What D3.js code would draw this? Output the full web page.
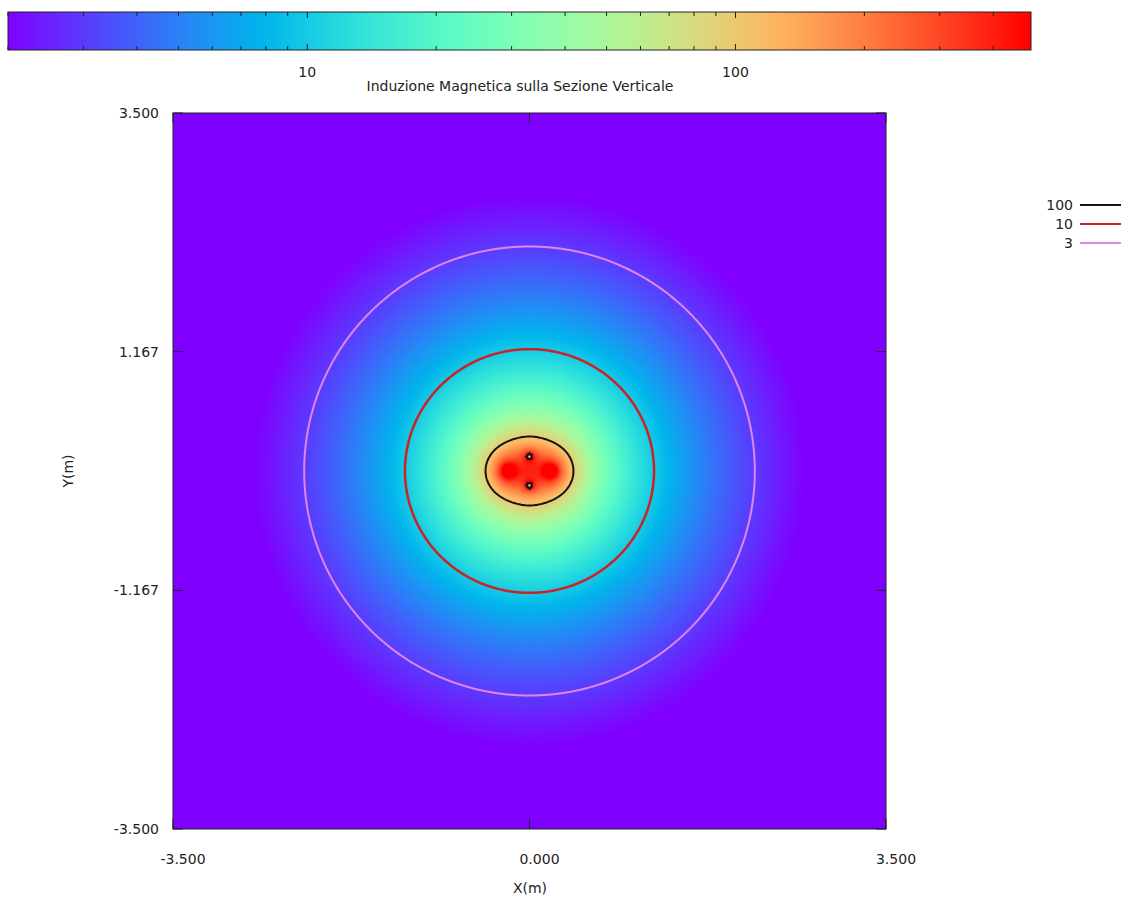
<!DOCTYPE html>
<html>
<head>
<meta charset="utf-8">
<script src="https://cdn.jsdelivr.net/npm/d3@7"></script>
<style>
  body { margin: 0; background: #fff; }
  svg text { font-family: "DejaVu Sans", Verdana, sans-serif; font-size: 14px; fill: #222; }
</style>
</head>
<body>
<div id="chart"></div>
<script>
// conductors of the section: position (m), rms current (A), phase (deg), radius (m)
// radius 0 = thin wire; inside a conductor with radius the field is not computed
var condX = [0.21, -0.21, 0, 0];
var condY = [0, 0, 0.14, -0.14];
var condI = [165, 165, 80, 80];
var condPh = [0, 180, 90, 270];
var condR = [0, 0, 0.03, 0.03];

// contour levels (uT) and axis ticks
var levels = [100, 10, 3];
var xTicks = [-3.5, 0, 3.5];
var yTicks = [-3.5, -1.167, 1.167, 3.5];
var cbRange = [2, 490];
var cbMajor = [10, 100];
var cbMinor = [2, 3, 4, 5, 6, 7, 8, 9, 20, 30, 40, 50, 60, 70, 80, 90, 200, 300, 400];

var W = 1121, H = 898;
var plot = {left: 173, right: 886, top: 113, bottom: 829};
var cb = {left: 8, right: 1031, top: 12, bottom: 50};
var lineColor = {100: "#151515", 10: "#cc2226", 3: "#e483ec"};

var svg = d3.select("#chart").append("svg").attr("width", W).attr("height", H);

var x = d3.scaleLinear().domain([-3.5, 3.5]).range([plot.left, plot.right]);
var y = d3.scaleLinear().domain([-3.5, 3.5]).range([plot.bottom, plot.top]);

// gnuplot rgbformulae 33,13,10
function palette(t) {
  var r = Math.min(1, Math.abs(2 * t - 0.5)),
      g = Math.max(0, Math.sin(Math.PI * t)),
      b = Math.max(0, Math.cos(Math.PI * t / 2));
  return d3.rgb(r * 255, g * 255, b * 255);
}
var color = d3.scaleSequentialLog(palette).domain(cbRange).clamp(true);

var cosPh = condPh.map(function(p) { return Math.cos(p * Math.PI / 180); });
var sinPh = condPh.map(function(p) { return Math.sin(p * Math.PI / 180); });

// rms induction (uT) from the phasors of Bx and By
function field(px, py) {
  var bxr = 0, bxi = 0, byr = 0, byi = 0;
  for (var k = 0; k < condX.length; k++) {
    var dx = px - condX[k], dy = py - condY[k], r2 = dx * dx + dy * dy;
    if (r2 < condR[k] * condR[k]) return 0;
    if (condI[k] === 0) continue;
    if (r2 < 1e-10) return Infinity;
    var c = 0.2 * condI[k] / r2;
    bxr += -c * dy * cosPh[k]; bxi += -c * dy * sinPh[k];
    byr += c * dx * cosPh[k];  byi += c * dx * sinPh[k];
  }
  return Math.sqrt(bxr * bxr + bxi * bxi + byr * byr + byi * byi);
}

// heatmap, one pixel per screen pixel
var pw = plot.right - plot.left, ph = plot.bottom - plot.top;
var canvas = document.createElement("canvas");
canvas.width = pw; canvas.height = ph;
var ctx = canvas.getContext("2d");
var img = ctx.createImageData(pw, ph);
for (var j = 0; j < ph; j++) {
  for (var i = 0; i < pw; i++) {
    var v = field(x.invert(plot.left + i + 0.5), y.invert(plot.top + j + 0.5));
    var c = v === 0 ? d3.rgb("#f3e9c8") : d3.rgb(color(Math.min(v, cbRange[1])));
    var o = (j * pw + i) * 4;
    img.data[o] = c.r; img.data[o + 1] = c.g; img.data[o + 2] = c.b; img.data[o + 3] = 255;
  }
}
ctx.putImageData(img, 0, 0);
svg.append("image")
    .attr("x", plot.left).attr("y", plot.top)
    .attr("width", pw).attr("height", ph)
    .attr("href", canvas.toDataURL());

// contours on a grid
var step = 0.01, n = Math.round(7 / step) + 1;
var values = new Float64Array(n * n);
for (var gj = 0; gj < n; gj++)
  for (var gi = 0; gi < n; gi++)
    values[gj * n + gi] = field(-3.5 + gi * step, -3.5 + gj * step);

var contours = d3.contours().size([n, n]).thresholds(levels)(values);
var path = d3.geoPath(d3.geoTransform({
  point: function(u, w) {
    this.stream.point(x(-3.5 + (u - 0.5) * step), y(-3.5 + (w - 0.5) * step));
  }
}));
svg.append("g").selectAll("path")
  .data(contours)
  .enter().append("path")
    .attr("d", path)
    .attr("fill", "none")
    .attr("stroke", function(d) { return lineColor[d.value]; })
    .attr("stroke-width", function(d) { return d.value === 10 ? 2.5 : 2; });

// frame and ticks
svg.append("rect")
    .attr("x", plot.left).attr("y", plot.top).attr("width", pw).attr("height", ph)
    .attr("fill", "none").attr("stroke", "#222").attr("stroke-width", 1);

var tl = 10;
var tk = svg.append("g").attr("stroke", "#222").attr("stroke-width", 1);
xTicks.forEach(function(t) {
  tk.append("line").attr("x1", x(t)).attr("x2", x(t)).attr("y1", plot.bottom).attr("y2", plot.bottom - tl);
  tk.append("line").attr("x1", x(t)).attr("x2", x(t)).attr("y1", plot.top).attr("y2", plot.top + tl);
});
yTicks.forEach(function(t) {
  tk.append("line").attr("x1", plot.left).attr("x2", plot.left + tl).attr("y1", y(t)).attr("y2", y(t));
  tk.append("line").attr("x1", plot.right).attr("x2", plot.right - tl).attr("y1", y(t)).attr("y2", y(t));
});

function fmt(d) { return d.toFixed(3); }

svg.append("g").selectAll("text")
  .data(xTicks)
  .enter().append("text")
    .attr("x", function(d) { return x(d) + 10; })
    .attr("y", 864)
    .attr("text-anchor", "middle")
    .text(fmt);

svg.append("g").selectAll("text")
  .data(yTicks)
  .enter().append("text")
    .attr("x", 159)
    .attr("y", function(d) { return y(d) + 5; })
    .attr("text-anchor", "end")
    .text(fmt);

svg.append("text").attr("x", 530).attr("y", 893).attr("text-anchor", "middle").text("X(m)");
svg.append("text")
    .attr("transform", "translate(73,471) rotate(-90)")
    .attr("text-anchor", "middle")
    .text("Y(m)");

// colour box
var cx = d3.scaleLog().domain(cbRange).range([cb.left, cb.right]);
var grad = svg.append("defs").append("linearGradient").attr("id", "cbgrad");
d3.range(0, 1.0001, 0.02).forEach(function(t) {
  grad.append("stop").attr("offset", t).attr("stop-color", palette(t));
});
svg.append("rect")
    .attr("x", cb.left).attr("y", cb.top)
    .attr("width", cb.right - cb.left).attr("height", cb.bottom - cb.top)
    .attr("fill", "url(#cbgrad)").attr("stroke", "#222").attr("stroke-width", 1);

var cbt = svg.append("g").attr("stroke", "#222").attr("stroke-width", 1);
cbMajor.concat(cbMinor).forEach(function(t) {
  var len = cbMajor.indexOf(t) >= 0 ? 6 : 4;
  cbt.append("line").attr("x1", cx(t)).attr("x2", cx(t)).attr("y1", cb.top).attr("y2", cb.top + len);
  cbt.append("line").attr("x1", cx(t)).attr("x2", cx(t)).attr("y1", cb.bottom).attr("y2", cb.bottom - len);
});
svg.append("g").selectAll("text")
  .data(cbMajor)
  .enter().append("text")
    .attr("x", function(d) { return cx(d); })
    .attr("y", 77)
    .attr("text-anchor", "middle")
    .text(function(d) { return d; });
svg.append("text").attr("x", 520).attr("y", 91).attr("text-anchor", "middle")
    .text("Induzione Magnetica sulla Sezione Verticale");

// key
var key = svg.append("g").selectAll("g")
  .data(levels)
  .enter().append("g")
    .attr("transform", function(d, i) { return "translate(0," + (205 + i * 19) + ")"; });
key.append("text")
    .attr("x", 1073).attr("y", 5)
    .attr("text-anchor", "end")
    .text(function(d) { return d; });
key.append("line")
    .attr("x1", 1080).attr("x2", 1121)
    .attr("stroke", function(d) { return lineColor[d]; })
    .attr("stroke-width", 2);
</script>
</body>
</html>
